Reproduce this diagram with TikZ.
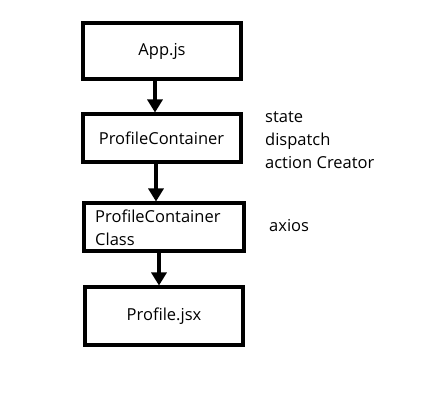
\documentclass[tikz,border=0pt]{standalone}
\usepackage{fontspec}
\setmainfont{Open Sans}
\usetikzlibrary{arrows.meta,positioning}

\begin{document}
\begin{tikzpicture}[x=1pt,y=-1pt]

    \tikzset{
      block/.style={
        draw,
        line width=4pt,
        minimum width=158pt,
        inner sep=0pt,
      },
      flow/.style={
        line width=4pt,
        -{Triangle[length=13pt,width=15pt]},
      },
      note/.style={
        align=left,
        anchor=north west,
        inner sep=0pt,
      },
    }
    \useasboundingbox (0,0) rectangle (421,409);
    \fontsize{16.5pt}{23pt}\selectfont

	\node[block,minimum height=56pt] (app) at (162,51) {App.js};
	\node[block,minimum height=48pt] (container) at (161.5,138.5) {ProfileContainer};
	\node[block,minimum height=48pt,minimum width=160pt] (cls) at (164,227.5) {};
	\node[note,anchor=west,align=left] (clstext) at (95,228) {ProfileContainer\\Class};
	\node[block,minimum height=57pt] (profile) at (164,316) {Profile.jsx};
	
	\draw[flow] (app.south -| 155,0) -- (container.north -| 155,0);
	\draw[flow] (container.south -| 156,0) -- (cls.north -| 156,0);
	\draw[flow] (cls.south -| 159,0) -- (profile.north -| 159,0);
	
	\node[note] (props) at (265,111) {state\\dispatch\\action Creator};
	\node[note] (axios) at (269,219) {axios};

\end{tikzpicture}
\end{document}
